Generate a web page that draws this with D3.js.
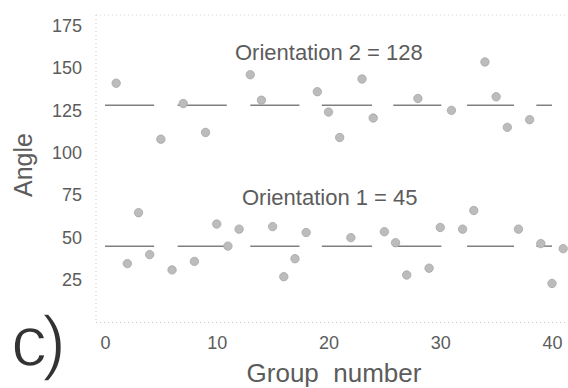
<!DOCTYPE html>
<html>
<head>
<meta charset="utf-8">
<script src="https://cdn.jsdelivr.net/npm/d3@7"></script>
<style>
  html, body { margin: 0; padding: 0; background: #fff; }
  svg { display: block; }
</style>
</head>
<body>
<svg id="chart" width="568" height="388"></svg>
<script>
// values
const upperGroups = [1, 5, 7, 9, 13, 14, 19, 20, 21, 23, 24, 28, 31, 34, 35, 36, 38];
const upperAngles = [141, 108, 129, 112, 146, 131, 136, 124, 109, 143.5, 120.5, 132, 125, 153.5, 133, 115, 119.5];
const lowerGroups = [2, 3, 4, 6, 8, 10, 11, 12, 15, 16, 17, 18, 22, 25, 26, 27, 29, 30, 32, 33, 37, 39, 40, 41];
const lowerAngles = [34.7, 64.7, 40, 31, 36, 58, 45, 55, 56.5, 27, 37.6, 53, 50, 53.5, 47, 28, 32, 56, 55, 66, 55, 46.5, 23, 43.5];
const meanAngles = [45, 128];
const meanLabels = ["Orientation 1 = 45", "Orientation 2 = 128"];
const meanSegments = [[0, 4.4], [6.5, 10.9], [13, 17.4], [19.4, 23.9], [25.8, 30.1], [32.4, 36.6], [38.6, 40]];
const xTicks = [0, 10, 20, 30, 40];
const yTicks = [25, 50, 75, 100, 125, 150, 175];

const svg = d3.select("#chart");

const x = d3.scaleLinear().domain([0, 40]).range([105, 552]);
const y = d3.scaleLinear().domain([0, 175]).range([322.5, 25.5]);

const axisX0 = 96, axisTop = 15;

// dotted frame lines
svg.append("line")
    .attr("x1", axisX0).attr("x2", axisX0)
    .attr("y1", axisTop).attr("y2", y(0))
    .attr("stroke", "#c8c8c8").attr("stroke-dasharray", "1,3");
svg.append("line")
    .attr("x1", axisX0).attr("x2", 568)
    .attr("y1", y(0)).attr("y2", y(0))
    .attr("stroke", "#c8c8c8").attr("stroke-dasharray", "1,3");
svg.append("line")
    .attr("x1", axisX0).attr("x2", 568)
    .attr("y1", axisTop).attr("y2", axisTop)
    .attr("stroke", "#d8d8d8").attr("stroke-dasharray", "1,3");

const yAxis = d3.axisLeft(y).tickValues(yTicks).tickSize(0).tickPadding(0);
svg.append("g")
    .attr("transform", "translate(82,0)")
    .call(yAxis)
    .call(g => g.select(".domain").remove());

const xAxis = d3.axisBottom(x).tickValues(xTicks).tickSize(0).tickPadding(0);
svg.append("g")
    .attr("transform", "translate(0,336)")
    .call(xAxis)
    .call(g => g.select(".domain").remove());

svg.selectAll(".tick text")
    .style("fill", "#5c5c5c")
    .style("font-size", "18px")
    .style("font-family", "Liberation Sans, Arial, sans-serif");

// mean lines, broken into segments
meanAngles.forEach((m, i) => {
    svg.append("g").selectAll("line")
        .data(meanSegments)
        .join("line")
        .attr("x1", d => x(d[0]))
        .attr("x2", d => x(d[1]))
        .attr("y1", y(m))
        .attr("y2", y(m))
        .attr("stroke", "#808080")
        .attr("stroke-width", 1.5);
});

// points
const pts = upperGroups.map((g, i) => ({g: g, a: upperAngles[i]}))
    .concat(lowerGroups.map((g, i) => ({g: g, a: lowerAngles[i]})));
svg.append("g").selectAll("circle")
    .data(pts)
    .join("circle")
    .attr("cx", d => x(d.g))
    .attr("cy", d => y(d.a))
    .attr("r", 4.2)
    .attr("fill", "#bcbcbc")
    .attr("stroke", "#a6a6a6")
    .attr("stroke-width", 0.8);

// annotations
svg.append("g").selectAll("text")
    .data(meanLabels)
    .join("text")
    .attr("x", (d, i) => i === 0 ? 242 : 235)
    .attr("y", (d, i) => i === 0 ? 205 : 60)
    .text(d => d)
    .style("fill", "#5c5c5c")
    .style("font-size", "22px")
    .style("font-family", "Liberation Sans, Arial, sans-serif");

svg.append("text")
    .attr("x", 334)
    .attr("y", 382)
    .attr("text-anchor", "middle")
    .style("white-space", "pre")
    .text("Group  number")
    .style("fill", "#5c5c5c")
    .style("font-size", "26px")
    .style("font-family", "Liberation Sans, Arial, sans-serif");

svg.append("text")
    .attr("transform", "translate(32,165) rotate(-90)")
    .attr("text-anchor", "middle")
    .text("Angle")
    .style("fill", "#5c5c5c")
    .style("font-size", "25px")
    .style("font-family", "Liberation Sans, Arial, sans-serif");

// panel letter, thinned with a white stroke
svg.append("text")
    .attr("x", 11)
    .attr("y", 366)
    .text("c)")
    .style("fill", "#333")
    .style("stroke", "#fff")
    .style("stroke-width", "1.6px")
    .style("font-size", "72px")
    .style("letter-spacing", "-5px")
    .style("font-family", "Liberation Sans, Arial, sans-serif");
</script>
</body>
</html>
